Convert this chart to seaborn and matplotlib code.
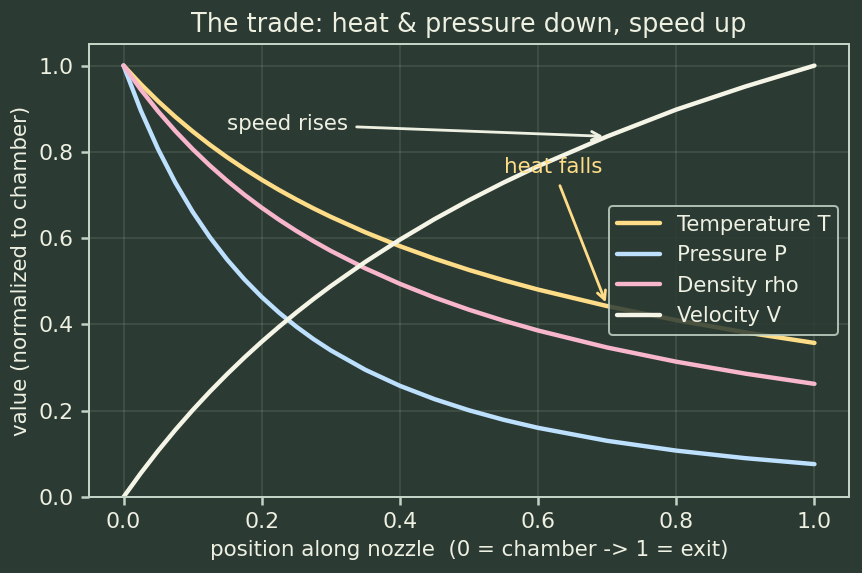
import numpy as np
import pandas as pd
import matplotlib
matplotlib.use("Agg")
import matplotlib.pyplot as plt
import seaborn as sns

# ---- data ----
position = [0.0, 0.025, 0.05, 0.075, 0.1, 0.125, 0.15, 0.175, 0.2, 0.225,
            0.25, 0.275, 0.3, 0.35, 0.4, 0.45, 0.5, 0.55, 0.6, 0.7, 0.8, 0.9, 1.0]
temperature = [1.0, 0.9569, 0.9174, 0.8811, 0.8475, 0.8163, 0.7874, 0.7605,
               0.7353, 0.7117, 0.6897, 0.6689, 0.6494, 0.6135, 0.5814, 0.5525,
               0.5263, 0.5025, 0.4808, 0.4425, 0.4098, 0.3817, 0.3571]
pressure = [1.0, 0.8958, 0.8062, 0.7286, 0.6611, 0.6021, 0.5502, 0.5043,
            0.4636, 0.4274, 0.3950, 0.3659, 0.3398, 0.2948, 0.2577, 0.2269,
            0.2010, 0.1790, 0.1603, 0.1302, 0.1075, 0.0900, 0.0762]
density = [1.0, 0.9444, 0.8940, 0.8482, 0.8064, 0.7681, 0.7329, 0.7005,
           0.6705, 0.6427, 0.6169, 0.5929, 0.5705, 0.5299, 0.4941, 0.4624,
           0.4341, 0.4088, 0.3859, 0.3465, 0.3136, 0.2859, 0.2622]
velocity = [0.0, 0.0553, 0.1071, 0.1556, 0.2013, 0.2443, 0.2849, 0.3234,
            0.3599, 0.3945, 0.4275, 0.4589, 0.4889, 0.5450, 0.5965, 0.6440,
            0.6879, 0.7288, 0.7668, 0.8358, 0.8980, 0.9515, 1.0]

series_names = ["Temperature T", "Pressure P", "Density rho", "Velocity V"]
series_colors = ["#ffdd88", "#bde0fe", "#f7b6cb", "#f4f5e6"]

title = "The trade: heat & pressure down, speed up"
xlabel = "position along nozzle  (0 = chamber -> 1 = exit)"
ylabel = "value (normalized to chamber)"
ticks = [0.0, 0.2, 0.4, 0.6, 0.8, 1.0]

bg = "#2b3a32"
fg = "#eef0e2"
spine_col = "#c3d3c6"

sns.set_theme(context="notebook", style="dark")
plt.rcParams.update({
    "font.family": ["DejaVu Sans"],
    "figure.facecolor": bg,
    "axes.facecolor": bg,
    "axes.edgecolor": spine_col,
    "axes.labelcolor": fg,
    "xtick.color": spine_col,
    "ytick.color": spine_col,
    "xtick.labelcolor": fg,
    "ytick.labelcolor": fg,
    "text.color": fg,
    "xtick.bottom": True,
    "ytick.left": True,
    "xtick.major.size": 4,
    "ytick.major.size": 4,
})

n = len(position)
df = pd.DataFrame({
    "position": position * 4,
    "value": temperature + pressure + density + velocity,
    "quantity": [series_names[0]] * n + [series_names[1]] * n
    + [series_names[2]] * n + [series_names[3]] * n,
})

fig = plt.figure(figsize=(862 / 144, 573 / 144), dpi=144)
ax = fig.add_axes([89 / 862, 76 / 573, 760 / 862, 453 / 573])

sns.lineplot(data=df, x="position", y="value", hue="quantity",
             hue_order=series_names,
             palette=dict(zip(series_names, series_colors)),
             linewidth=2.2, sort=False, ax=ax)

ax.set_xlim(-0.05, 1.05)
ax.set_ylim(0, 1.05)
ax.set_xticks(ticks)
ax.set_yticks(ticks)
ax.tick_params(labelsize=11)
ax.grid(True, color="#c8d8c8", alpha=0.15, linewidth=0.8)
for s in ax.spines.values():
    s.set_color(spine_col)
    s.set_linewidth(1.0)

ax.set_title(title, fontsize=12.75, color=fg)
ax.set_xlabel(xlabel, fontsize=10.7)
ax.set_ylabel(ylabel, fontsize=10.7)

i7 = position.index(0.7)
ax.annotate("speed rises", xy=(position[i7], velocity[i7]), xytext=(0.15, 0.85),
            color=fg, fontsize=10.7,
            arrowprops=dict(arrowstyle="->", color=fg, lw=1.4))
ax.annotate("heat falls", xy=(position[i7], temperature[i7]), xytext=(0.55, 0.75),
            color=series_colors[0], fontsize=10.7,
            arrowprops=dict(arrowstyle="->", color=series_colors[0], lw=1.4))

leg = ax.legend(loc="center right", frameon=True, facecolor=bg,
                edgecolor=spine_col, framealpha=0.85, fontsize=10.55)
for t in leg.get_texts():
    t.set_color(fg)

fig.savefig("out.png", dpi=144, facecolor=bg)
